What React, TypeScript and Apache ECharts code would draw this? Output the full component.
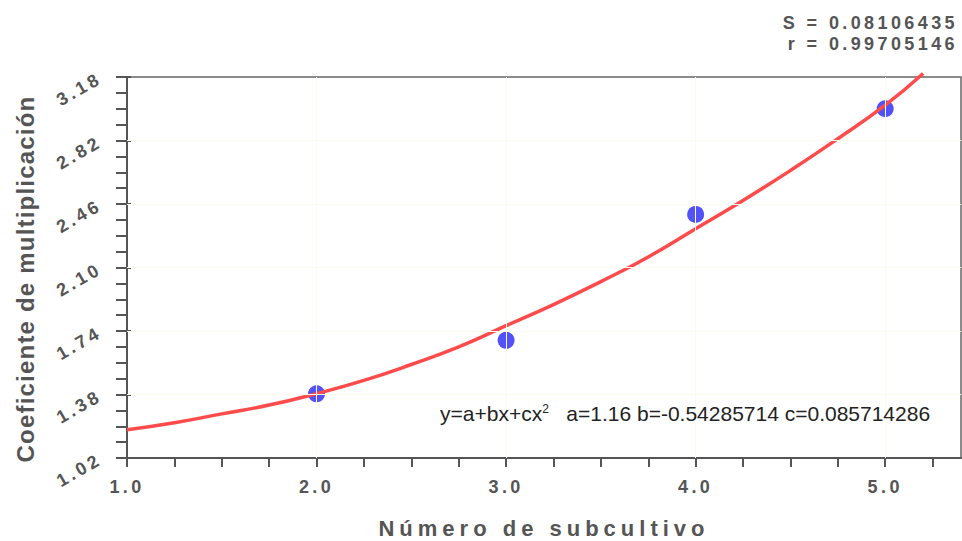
import React, { useEffect, useRef } from "react";
import * as echarts from "echarts";

// Measured points
const subcultivo = [2, 3, 4, 5];
const coeficiente = [1.384, 1.687, 2.401, 3.0];

// Fitted curve
const fitX = [1.0, 1.25, 1.5, 1.75, 2.0, 2.25, 2.5, 2.75, 3.0, 3.25, 3.5, 3.75, 4.0, 4.25, 4.5, 4.75, 5.0, 5.2];
const fitY = [1.18, 1.22, 1.27, 1.32, 1.385, 1.46, 1.55, 1.65, 1.77, 1.89, 2.02, 2.16, 2.32, 2.48, 2.65, 2.83, 3.02, 3.2];

// Axis ticks
const yMajorTicks = [1.02, 1.38, 1.74, 2.1, 2.46, 2.82, 3.18];
const xMajorTicks = [1, 2, 3, 4, 5];
const xMinorTicks = [1, 1.25, 1.5, 1.75, 2, 2.25, 2.5, 2.75, 3, 3.25, 3.5, 3.75, 4, 4.25, 4.5, 4.75, 5, 5.25];

const statS = "S = 0.08106435";
const statR = "r = 0.99705146";
const xName = "Número de subcultivo";
const yName = "Coeficiente de multiplicación";

const FONT = '"Liberation Sans", Arial, sans-serif';
const GRAY = "#555555";

const css = `
text[style*="18px"] { letter-spacing: 3.4px; }
text[style*="22px"] { letter-spacing: 5px; }
text[style*="24px"] { letter-spacing: 1.2px; }
`;

function yAllTicks(): number[] {
  const out: number[] = [];
  for (let i = 0; i < yMajorTicks.length - 1; i++) {
    const a = yMajorTicks[i];
    const b = yMajorTicks[i + 1];
    for (let k = 0; k < 4; k++) out.push(+(a + ((b - a) * k) / 4).toFixed(4));
  }
  out.push(yMajorTicks[yMajorTicks.length - 1]);
  return out;
}

export default function App() {
  const ref = useRef<HTMLDivElement>(null);
  useEffect(() => {
    if (!ref.current) return;
    const chart = echarts.init(ref.current, null, { renderer: "svg" });
    const yMin = yMajorTicks[0];
    const yMax = yMajorTicks[yMajorTicks.length - 1];
    chart.setOption({
      animation: false,
      backgroundColor: "#ffffff",
      grid: {
        left: 127,
        right: 1,
        top: 77,
        bottom: 83,
        show: true,
        borderColor: "#666666",
        borderWidth: 1.5,
        backgroundColor: "transparent",
      },
      xAxis: {
        type: "value",
        min: 1,
        max: 5.4,
        axisLine: { show: true, onZero: false, lineStyle: { color: GRAY, width: 2 } },
        axisTick: { show: true, length: 9, customValues: xMinorTicks, lineStyle: { color: GRAY, width: 2 } },
        axisLabel: {
          customValues: xMajorTicks,
          formatter: (v: number) => v.toFixed(1),
          margin: 20,
          fontSize: 18,
          fontWeight: "bold",
          fontFamily: FONT,
          color: GRAY,
        },
        splitLine: { show: false },
      },
      yAxis: [
        {
          type: "value",
          min: yMin,
          max: yMax,
          axisLine: { show: true, onZero: false, lineStyle: { color: GRAY, width: 2 } },
          axisTick: { show: true, length: 11, customValues: yAllTicks(), lineStyle: { color: GRAY, width: 2 } },
          axisLabel: {
            customValues: yMajorTicks,
            formatter: (v: number) => v.toFixed(2),
            rotate: 30,
            margin: 27,
            padding: [0, 0, 10, 0],
            fontSize: 18,
            fontWeight: "bold",
            fontFamily: FONT,
            color: GRAY,
          },
          splitLine: { show: false },
        },
        {
          type: "value",
          min: yMin,
          max: yMax,
          position: "left",
          axisLine: { show: false },
          axisTick: { show: true, inside: true, length: 4, customValues: yMajorTicks, lineStyle: { color: GRAY, width: 2 } },
          axisLabel: { show: false },
          splitLine: { show: false },
        },
      ],
      graphic: [
        {
          type: "text",
          x: 958,
          y: 23,
          style: { text: statS, align: "right", verticalAlign: "middle", fontSize: 18, fontWeight: "bold", fontFamily: FONT, fill: GRAY },
        },
        {
          type: "text",
          x: 958,
          y: 44,
          style: { text: statR, align: "right", verticalAlign: "middle", fontSize: 18, fontWeight: "bold", fontFamily: FONT, fill: GRAY },
        },
        {
          type: "text",
          x: 544,
          y: 528,
          style: { text: xName, align: "center", verticalAlign: "middle", fontSize: 22, fontWeight: "bold", fontFamily: FONT, fill: GRAY },
        },
        {
          type: "text",
          x: 25,
          y: 279,
          rotation: Math.PI / 2,
          style: { text: yName, align: "center", verticalAlign: "middle", fontSize: 24, fontWeight: "bold", fontFamily: FONT, fill: GRAY },
        },
        {
          type: "text",
          x: 440,
          y: 413,
          z: 10,
          style: {
            text: "y=a+bx+cx{sup|2}   a=1.16 b=-0.54285714 c=0.085714286",
            verticalAlign: "middle",
            fontSize: 21,
            fontFamily: FONT,
            fill: "#222222",
            rich: {
              sup: { fontSize: 12, fontFamily: FONT, fill: "#222222", verticalAlign: "top" },
            },
          },
        },
      ],
      series: [
        {
          type: "scatter",
          data: subcultivo.map((x, i) => [x, coeficiente[i]]),
          symbol: "circle",
          symbolSize: 17,
          itemStyle: { color: "#5252f8", opacity: 1 },
          z: 2,
          markLine: {
            silent: true,
            symbol: "none",
            label: { show: false },
            lineStyle: { color: "#fcfcee", type: "solid", width: 1 },
            data: [
              ...xMajorTicks.slice(1).map((v) => ({ xAxis: v })),
              ...yMajorTicks.slice(1, -1).map((v) => ({ yAxis: v })),
            ],
          },
        },
        {
          type: "line",
          data: fitX.map((x, i) => [x, fitY[i]]),
          smooth: true,
          showSymbol: false,
          clip: false,
          lineStyle: { color: "#ff4b4b", width: 3.5 },
          z: 3,
        },
      ],
    });
    return () => chart.dispose();
  }, []);
  return (
    <>
      <style>{css}</style>
      <div
        ref={ref}
        style={{ position: "fixed", left: 0, top: 0, width: 962, height: 541 }}
      />
    </>
  );
}
